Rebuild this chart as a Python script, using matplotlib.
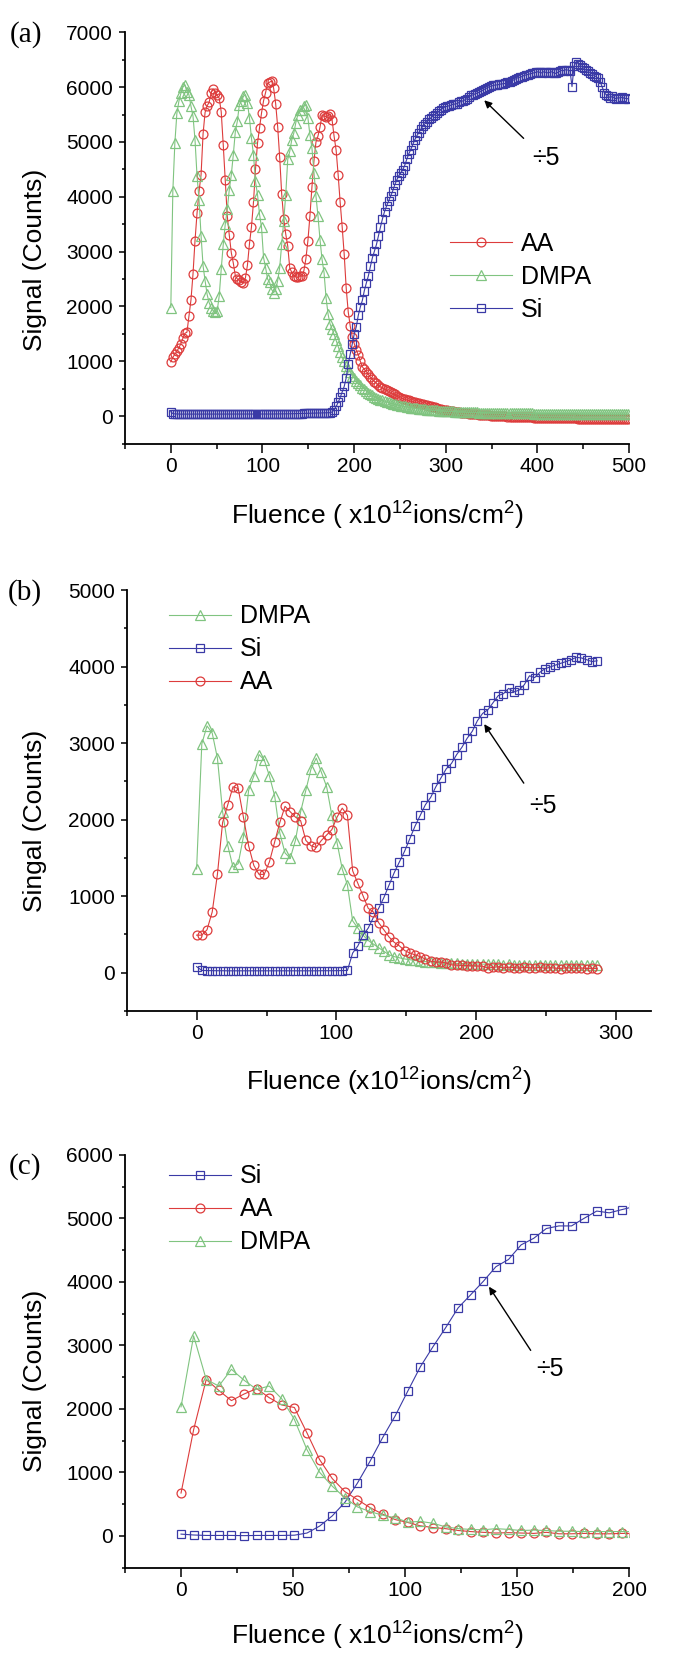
import numpy as np
import matplotlib
matplotlib.use('Agg')
import matplotlib.pyplot as plt
from matplotlib.ticker import MultipleLocator

plt.rcParams['font.family'] = ['Liberation Sans', 'DejaVu Sans']
plt.rcParams['mathtext.fontset'] = 'custom'
plt.rcParams['mathtext.rm'] = 'Liberation Sans'
plt.rcParams['mathtext.it'] = 'Liberation Sans:italic'

# ---------------- panel (a) data ----------------
step_a = 2.2
aa_a = [990, 1070, 1130, 1180, 1250, 1320, 1420, 1510, 1530, 1830,
        2120, 2590, 3200, 3700, 4100, 4400, 5150, 5540, 5660, 5720,
        5900, 5970, 5900, 5850, 5800, 5550, 4950, 4300, 3650, 3300,
        2980, 2790, 2560, 2500, 2480, 2440, 2430, 2520, 2750, 3140,
        3450, 3900, 4500, 4980, 5250, 5530, 5750, 5900, 6070, 6090,
        6110, 5980, 5700, 5280, 4720, 4050, 3600, 3320, 3100, 2700,
        2620, 2560, 2540, 2530, 2560, 2550, 2650, 2870, 3200, 3650,
        4180, 4650, 5000, 5110, 5270, 5490, 5470, 5460, 5480, 5510,
        5400, 5100, 4850, 4400, 3900, 3450, 2950, 2330, 1900, 1640,
        1450, 1320, 1200, 1120, 1000, 900, 850, 810, 760, 710,
        670, 630, 600, 560, 530, 510, 490, 475, 455, 435,
        415, 395, 370, 350,
        330, 320, 305, 295, 285, 270, 260, 250, 240, 230,
        222, 215, 208, 200, 190, 180, 168, 158, 148, 138,
        128, 120, 112, 105, 98, 92, 85, 80, 74, 68,
        63, 58, 54, 50, 45, 41, 37, 33, 30, 26,
        23, 20, 17, 14, 11, 9, 6, 4, 2, 0,
        -2, -4, -6, -8, -10, -11, -13, -14, -16, -17,
        -19, -20, -21, -23, -24, -25, -26, -27, -28, -29,
        -30, -31, -32, -33, -34, -35, -36, -36, -37, -38,
        -39, -40, -40, -41, -42, -43, -43, -44, -45, -45,
        -46, -47, -47, -48, -49, -49, -50, -51, -51, -52,
        -53, -53, -54, -55, -55, -56, -57, -57, -58, -59,
        -59, -60, -60, -61]
dmpa_a = [1980, 4100, 4980, 5520, 5740, 5890, 6000, 6040, 5920, 5860,
          5650, 5470, 5040, 4380, 3950, 3290, 2740, 2470, 2220, 2070,
          1980, 1920, 1890, 1920, 2190, 2680, 3130, 3500, 3770, 4130,
          4400, 4770, 5190, 5380, 5680, 5740, 5830, 5860, 5710, 5440,
          5070, 4770, 4280, 4040, 3680, 3440, 2890, 2710, 2500, 2440,
          2310, 2250, 2310, 2470, 2710, 3130, 3560, 4040, 4680, 4830,
          5040, 5160, 5350, 5500, 5590, 5590, 5650, 5680, 5440, 5130,
          4890, 4440, 4010, 3650, 3220, 2860, 2620, 2160, 1860, 1680,
          1590, 1490, 1380, 1270, 1160, 1070, 1000, 920, 860, 800,
          740, 690, 640, 600, 560, 520, 490, 460, 430, 405,
          380, 355, 335, 315, 300, 285, 272, 260, 248, 237,
          226, 216, 207, 198,
          190, 182, 175, 168, 162, 156, 150, 145, 140, 135,
          130, 126, 122, 118, 114, 111, 108, 105, 102, 99,
          96, 94, 92, 90, 88, 86, 84, 82, 80, 78,
          77, 75, 74, 72, 71, 70, 68, 67, 66, 65,
          64, 63, 62, 61, 60, 59, 58, 58, 57, 56,
          55, 55, 54, 53, 53, 52, 52, 51, 51, 50,
          50, 49, 49, 48, 48, 48, 47, 47, 47, 46,
          46, 46, 45, 45, 45, 45, 44, 44, 44, 44,
          43, 43, 43, 43, 42, 42, 42, 42, 42, 41,
          41, 41, 41, 41, 40, 40, 40, 40, 40, 40,
          39, 39, 39, 39, 39, 39, 38, 38, 38, 38,
          38, 38, 38, 38]
si_a = [80, 45, 40, 38, 37, 36, 36, 35, 35, 35,
        35, 35, 34, 34, 34, 34, 34, 34, 34, 34,
        34, 34, 34, 34, 34, 34, 34, 34, 34, 35,
        35, 35, 35, 35, 35, 35, 35, 35, 35, 36,
        36, 36, 36, 36, 37, 37, 37, 37, 38, 38,
        38, 39, 39, 39, 40, 40, 41, 41, 42, 42,
        43, 43, 44, 45, 46, 47, 48, 49, 50, 51,
        52, 53, 54, 55, 56, 57, 58, 59, 60, 62,
        75, 120, 175, 250, 340, 440, 540, 700, 950, 1130,
        1320, 1500, 1630, 1840, 1990, 2110, 2290, 2430, 2560, 2730,
        2890, 3010, 3130, 3290, 3450, 3600, 3730, 3830, 3920, 4010,
        4100, 4210, 4300, 4380,
        4430, 4490, 4570, 4680, 4780, 4860, 4950, 5040, 5110, 5170,
        5230, 5290, 5330, 5370, 5410, 5440, 5470, 5500, 5520, 5560,
        5590, 5620, 5640, 5650, 5660, 5670, 5690, 5690, 5700, 5720,
        5740, 5750, 5770, 5790, 5820, 5850, 5860, 5880, 5890, 5910,
        5930, 5950, 5970, 5990, 6010, 6020, 6030, 6040, 6040, 6050,
        6060, 6060, 6070, 6090, 6100, 6110, 6130, 6150, 6170, 6180,
        6190, 6210, 6220, 6230, 6240, 6250, 6260, 6270, 6280, 6270,
        6260, 6280, 6270, 6260, 6270, 6280, 6260, 6250, 6270, 6290,
        6310, 6300, 6320, 6310, 6300, 6010, 6380, 6460, 6430, 6400,
        6370, 6340, 6310, 6290, 6260, 6240, 6210, 6190, 6160, 6100,
        6000, 5900, 5860, 5830, 5810, 5830, 5800, 5790, 5810, 5800,
        5820, 5790, 5800, 5780]

# ---------------- panel (b) data ----------------
step_b = 3.72
aa_b = [491, 491, 561, 794, 1285, 1963, 2196, 2430, 2407, 2033,
        1659, 1402, 1285, 1285, 1449, 1706, 1963, 2173, 2103, 2033,
        1986, 1729, 1659, 1636, 1729, 1799, 1869, 2033, 2150, 2056,
        1332, 1168, 1005, 841, 794, 654, 561, 467, 397, 350,
        290, 257, 234, 210, 178, 150, 140, 140, 126, 103,
        100, 95, 92, 90, 88, 85, 60, 70, 78, 62,
        72, 68, 60, 70, 65, 62, 70, 58, 66, 60,
        55, 65, 60, 58, 62, 55, 58, 55]
dmpa_b = [1355, 2990, 3224, 3131, 2804, 2103, 1659, 1379, 1425, 1776,
          2383, 2570, 2850, 2780, 2570, 2313, 1822, 1565, 1495, 1729,
          2103, 2383, 2663, 2804, 2617, 2430, 2056, 1700, 1355, 1145,
          678, 584, 491, 421, 374, 327, 280, 234, 210, 195,
          180, 170, 160, 150, 145, 140, 135, 130, 128, 125,
          122, 120, 118, 115, 115, 112, 110, 112, 108, 106,
          108, 105, 104, 106, 103, 102, 104, 100, 102, 100,
          98, 100, 99, 97, 99, 98, 96, 98]
si_b = [80, 30, 28, 27, 26, 26, 25, 25, 25, 25,
        25, 25, 25, 25, 25, 25, 25, 25, 25, 25,
        25, 25, 25, 25, 26, 26, 26, 27, 28, 30,
        257, 350, 491, 584, 724, 841, 981, 1145, 1308, 1449,
        1589, 1752, 1916, 2056, 2196, 2290, 2430, 2547, 2664, 2734,
        2850, 2944, 3061, 3154, 3294, 3388, 3435, 3528, 3621, 3645,
        3715, 3668, 3692, 3762, 3879, 3855, 3925, 3972, 3995, 4019,
        4042, 4065, 4089, 4121, 4112, 4089, 4065, 4075]

# ---------------- panel (c) data ----------------
step_c = 5.62
aa_c = [676, 1673, 2464, 2292, 2132, 2235, 2321, 2178, 2063, 2023,
        1622, 1203, 905, 699, 573, 447, 344, 258, 212, 160,
        132, 115, 86, 69, 57, 46, 52, 46, 40, 57,
        34, 34, 40, 34, 34, 40, 38]
dmpa_c = [2034, 3152, 2464, 2361, 2625, 2453, 2309, 2361, 2160, 1834,
          1358, 1003, 785, 602, 458, 384, 327, 287, 218, 229,
          200, 143, 115, 103, 97, 115, 103, 86, 92, 86,
          74, 74, 69, 69, 69, 69, 68]
si_c = [29, 15, 8, 8, 8, 5, 8, 8, 8, 12,
        46, 155, 315, 527, 831, 1175, 1547, 1891, 2281, 2665,
        2980, 3278, 3593, 3800, 4011, 4241, 4355, 4585, 4688, 4842,
        4883, 4883, 5003, 5117, 5089, 5140, 5190]

fluence_a = np.arange(len(aa_a)) * step_a
fluence_b = np.arange(len(aa_b)) * step_b
fluence_c = np.arange(len(aa_c)) * step_c

# ---------------- styles ----------------
C_AA = '#dd3c3c'
C_DMPA = '#80c480'
C_SI = '#3a3aa6'
styles = {
    'AA': dict(color=C_AA, marker='o', ms=6.4),
    'DMPA': dict(color=C_DMPA, marker='^', ms=6.8),
    'Si': dict(color=C_SI, marker='s', ms=5.8),
}

fig = plt.figure(figsize=(6.84, 16.59), dpi=100)
W, H = 684.0, 1659.0

def make_ax(left, top, right, bottom):
    return fig.add_axes([left / W, 1 - bottom / H, (right - left) / W, (bottom - top) / H])

axa = make_ax(125, 32.3, 629, 443.5)
axb = make_ax(126.7, 590, 651, 1011)
axc = make_ax(125, 1155, 629.3, 1567.7)


def style_axes(ax, xlim, ylim, xmaj, xmin, ymaj, ymin):
    ax.set_xlim(*xlim)
    ax.set_ylim(*ylim)
    for s in ['top', 'right']:
        ax.spines[s].set_visible(False)
    for s in ['left', 'bottom']:
        ax.spines[s].set_linewidth(1.3)
    ax.xaxis.set_major_locator(MultipleLocator(xmaj))
    ax.xaxis.set_minor_locator(MultipleLocator(xmin))
    ax.yaxis.set_major_locator(MultipleLocator(ymaj))
    ax.yaxis.set_minor_locator(MultipleLocator(ymin))
    ax.tick_params(axis='x', which='major', direction='out', length=6.5, width=1.1,
                   labelsize=15, pad=3)
    ax.tick_params(axis='x', which='minor', direction='out', length=3.3, width=1.1)
    ax.tick_params(axis='y', which='major', direction='out', length=4.5, width=1.1,
                   labelsize=15, pad=4)
    ax.tick_params(axis='y', which='minor', direction='out', length=2.4, width=1.1)


def draw_series(ax, x, data, order):
    handles = []
    for name in order:
        st = styles[name]
        h, = ax.plot(x, data[name], color=st['color'], marker=st['marker'],
                     mfc='none', mec=st['color'], ms=st['ms'], mew=0.9, lw=0.8,
                     label=name)
        handles.append(h)
    return handles


def finish(ax, handles, leg_xy, ylabel, xlabel, ylab_xy, xlab_y, tip, tail, txt):
    ax.legend(handles=handles, loc='upper left', bbox_to_anchor=leg_xy, frameon=False,
              fontsize=18, handlelength=2.5, handletextpad=0.35, labelspacing=0.36,
              borderpad=0, borderaxespad=0, numpoints=1)
    ax.set_ylabel(ylabel, fontsize=19)
    ax.yaxis.set_label_coords(*ylab_xy)
    ax.yaxis.label.set_va('center')
    ax.set_xlabel(xlabel, fontsize=19)
    ax.xaxis.set_label_coords(0.5, xlab_y)
    ax.xaxis.label.set_va('center')
    ax.annotate('', xy=tip, xytext=tail,
                arrowprops=dict(arrowstyle='-|>', color='black', lw=1.0,
                                mutation_scale=11, shrinkA=0, shrinkB=0))
    ax.text(txt[0], txt[1], '÷5', fontsize=18, ha='center', va='center')


# panel (a)
style_axes(axa, (-50, 500), (-500, 7000), 100, 50, 1000, 500)
ha = draw_series(axa, fluence_a, {'AA': aa_a, 'DMPA': dmpa_a, 'Si': si_a},
                 ['AA', 'DMPA', 'Si'])
finish(axa, ha, (0.644, 0.515), 'Signal (Counts)',
       r'Fluence ( x10$^{12}$ions/cm$^{2}$)', (-0.179, 0.446), -0.176,
       (342, 5760), (385, 5066), (409, 4708))

# panel (b)
style_axes(axb, (-50, 325), (-500, 5000), 100, 50, 1000, 500)
hb = draw_series(axb, fluence_b, {'AA': aa_b, 'DMPA': dmpa_b, 'Si': si_b},
                 ['DMPA', 'Si', 'AA'])
finish(axb, hb, (0.08, 0.966), 'Singal (Counts)',
       r'Fluence (x10$^{12}$ions/cm$^{2}$)', (-0.175, 0.451), -0.168,
       (205.7, 3248), (234, 2477), (248, 2173))

# panel (c)
style_axes(axc, (-25, 200), (-500, 6000), 50, 25, 1000, 500)
hc = draw_series(axc, fluence_c, {'AA': aa_c, 'DMPA': dmpa_c, 'Si': si_c},
                 ['Si', 'AA', 'DMPA'])
finish(axc, hc, (0.087, 0.977), 'Signal (Counts)',
       r'Fluence ( x10$^{12}$ions/cm$^{2}$)', (-0.179, 0.453), -0.165,
       (137.4, 3926), (156, 2923), (164.7, 2636))

for lab, (x, y) in {'(a)': (26, 35), '(b)': (25, 593), '(c)': (25, 1167)}.items():
    fig.text(x / W, 1 - y / H, lab, family='Liberation Serif', fontsize=21,
             ha='center', va='center')

fig.savefig('out.png', dpi=100, facecolor='white')
